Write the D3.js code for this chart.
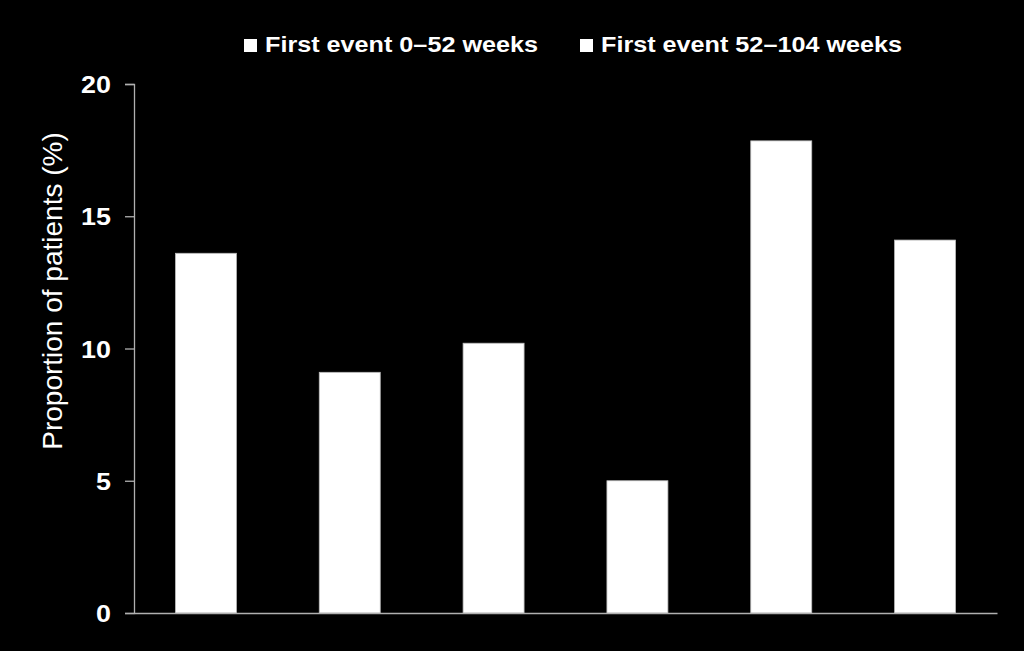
<!DOCTYPE html>
<html>
<head>
<meta charset="utf-8">
<script src="https://cdn.jsdelivr.net/npm/d3@7/dist/d3.min.js"></script>
<style>
html,body{margin:0;padding:0;background:#000;}
svg{display:block;}
text{font-family:"Liberation Sans",Arial,sans-serif;fill:#fff;}
</style>
</head>
<body>
<svg id="chart" width="1024" height="651"></svg>
<script>
const groups = ["Group 1", "Group 2", "Group 3"];
const seriesNames = ["First event 0\u201352 weeks", "First event 52\u2013104 weeks"];
const series0 = [13.6, 10.2, 17.85];
const series1 = [9.1, 5.0, 14.1];
const yTicks = [0, 5, 10, 15, 20];

const svg = d3.select("#chart");
const W = 1024, H = 651;
svg.append("rect").attr("width", W).attr("height", H).attr("fill", "#000");

const margin = {left: 134, right: 27, top: 84, bottom: 38};
const plotW = W - margin.left - margin.right;
const plotH = H - margin.top - margin.bottom;

const x0 = d3.scaleBand().domain(groups).range([0, plotW]).paddingInner(0).paddingOuter(0);
const x1 = d3.scaleBand().domain([0, 1]).range([0, x0.bandwidth()]).paddingInner(0.576).paddingOuter(0.288);
const y = d3.scaleLinear().domain([0, 20]).range([plotH, 0]);

const g = svg.append("g").attr("transform", `translate(${margin.left},${margin.top})`);

const data = [];
groups.forEach((grp, i) => {
  data.push({grp, s: 0, v: series0[i]});
  data.push({grp, s: 1, v: series1[i]});
});

g.selectAll("rect.bar").data(data).enter().append("rect")
  .attr("class", "bar")
  .attr("x", d => x0(d.grp) + x1(d.s))
  .attr("width", x1.bandwidth())
  .attr("y", d => y(d.v))
  .attr("height", d => plotH - y(d.v))
  .attr("fill", "#fff")
  .attr("stroke", "#bbb")
  .attr("stroke-width", 0.8);

// y axis
const yAxis = d3.axisLeft(y).tickValues(yTicks).tickSize(9).tickPadding(14).tickFormat(d3.format("d"));
const ya = g.append("g").call(yAxis);
ya.select(".domain").attr("stroke", "#b0b0b0").attr("stroke-width", 1.3);
ya.selectAll(".tick line").attr("stroke", "#b0b0b0").attr("stroke-width", 1.3);
ya.selectAll(".tick text")
  .attr("font-size", 24).attr("font-weight", "bold")
  .attr("font-family", "Liberation Sans, Arial, sans-serif").attr("fill", "#fff")
  .attr("x", null).attr("dy", "0.36em")
  .attr("transform", "translate(-23,0) scale(1.12,1)");

// x axis baseline
const xa = g.append("g").attr("transform", `translate(0,${plotH})`)
  .call(d3.axisBottom(x0).tickSize(0).tickFormat(""));
xa.select(".domain").attr("stroke", "#b0b0b0").attr("stroke-width", 1.3);

// y label
svg.append("text")
  .attr("transform", `translate(62,291) rotate(-90)`)
  .attr("text-anchor", "middle")
  .attr("font-size", 28)
  .text("Proportion of patients (%)");

// legend
const legendX = [244, 580];
const leg = svg.selectAll("g.leg").data(seriesNames).enter().append("g")
  .attr("class", "leg")
  .attr("transform", (d, i) => `translate(${legendX[i]},0)`);
leg.append("rect").attr("x", 0).attr("y", 39).attr("width", 13).attr("height", 13).attr("fill", "#fff");
leg.append("text")
  .attr("transform", "translate(21,52) scale(1.12,1)")
  .attr("font-size", 22.5).attr("font-weight", "bold").text(d => d);
</script>
</body>
</html>
